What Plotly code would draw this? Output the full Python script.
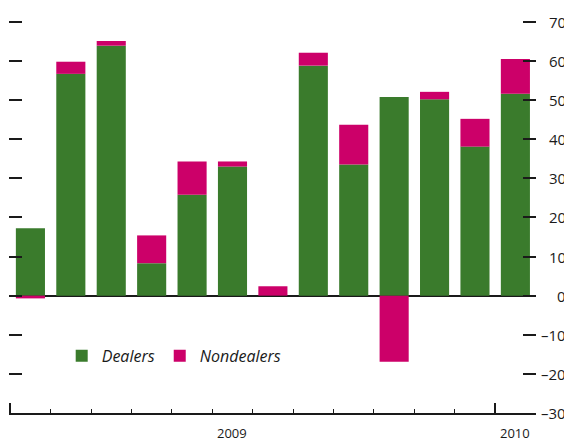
import plotly.graph_objects as go

# monthly net flows, Jan 2009 - Jan 2010
months = ["Jan 2009", "Feb 2009", "Mar 2009", "Apr 2009", "May 2009", "Jun 2009",
          "Jul 2009", "Aug 2009", "Sep 2009", "Oct 2009", "Nov 2009", "Dec 2009", "Jan 2010"]
dealers = [17.2, 56.7, 63.9, 8.3, 25.8, 33.0, 0.0, 58.8, 33.5, 50.8, 50.2, 38.1, 51.6]
nondealers = [-0.7, 3.1, 1.2, 7.1, 8.5, 1.3, 2.4, 3.3, 10.2, -16.9, 1.9, 7.1, 8.9]

y_ticks = [70, 60, 50, 40, 30, 20, 10, 0, -10, -20, -30]
y_labels = ["70", "60", "50", "40", "30", "20", "10", "0", "\u201310", "\u201320", "\u201330"]
years = ["2009", "2010"]
year_pos = [5, 12]
year_bounds = [-0.5, 11.5]

GREEN = "#3a7b2c"
MAGENTA = "#cc0069"
FONT = "Open Sans"

x = list(range(len(months)))

fig = go.Figure()
fig.add_trace(go.Bar(x=x, y=dealers, name="Dealers", marker_color=GREEN,
                     marker_line_width=0, hovertext=months))
fig.add_trace(go.Bar(x=x, y=nondealers, name="Nondealers", marker_color=MAGENTA,
                     marker_line_width=0, hovertext=months))

# y tick labels, right aligned at the right edge
annotations = []
for v, t in zip(y_ticks, y_labels):
    annotations.append(dict(text=t, xref="paper", x=1.06, xanchor="right",
                            yref="y", y=v, yanchor="middle", showarrow=False,
                            font=dict(family=FONT, size=15, color="#1a1a1a")))
for yr, p in zip(years, year_pos):
    annotations.append(dict(text=yr, xref="x", x=p, xanchor="center",
                            yref="paper", y=-0.05, yanchor="middle", showarrow=False,
                            font=dict(family=FONT, size=13, color="#1a1a1a")))

# page body adds an 8px offset, so margins are shifted to compensate
fig.update_layout(
    width=572, height=441,
    margin=dict(l=1, r=44, t=6, b=36, autoexpand=False),
    paper_bgcolor="white", plot_bgcolor="white",
    barmode="relative", bargap=0.28,
    font=dict(family=FONT, color="#1a1a1a"),
    showlegend=True,
    legend=dict(orientation="h", x=0.1, y=0.143, xanchor="left", yanchor="middle",
                font=dict(family=FONT, size=16, style="italic"),
                bgcolor="rgba(0,0,0,0)", itemwidth=30),
    annotations=annotations,
    xaxis=dict(range=[-0.53, 12.51], showgrid=False, zeroline=False,
               showline=True, linecolor="#1a1a1a", linewidth=1.5,
               tickvals=year_bounds, ticks="inside", ticklen=10, tickwidth=1.5,
               tickcolor="#1a1a1a", showticklabels=False, automargin=False,
               minor=dict(tickvals=[i - 0.5 for i in range(len(months) + 1)],
                          ticks="inside", ticklen=4, tickwidth=1.2,
                          tickcolor="#1a1a1a", showgrid=False)),
    yaxis=dict(range=[-30, 72], side="right", showgrid=False, automargin=False,
               zeroline=True, zerolinecolor="#1a1a1a", zerolinewidth=1.5,
               tickvals=y_ticks, ticks="inside", ticklen=13, tickwidth=1.5,
               tickcolor="#1a1a1a", showticklabels=False, showline=False,
               mirror="ticks", layer="above traces"),
)

fig.write_html("out.html")
